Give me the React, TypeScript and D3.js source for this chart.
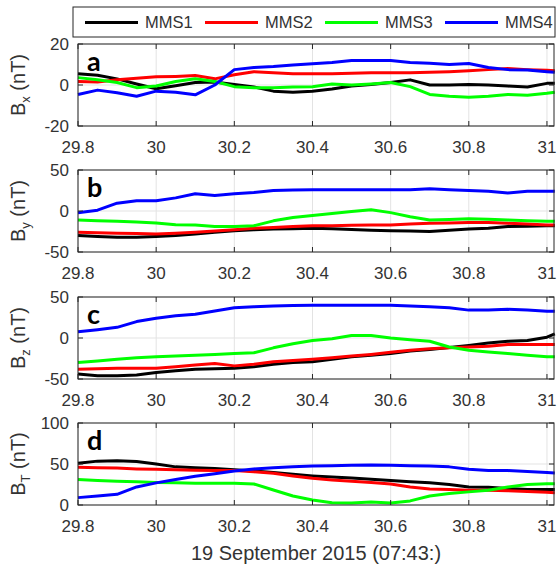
import React from 'react';
import * as d3 from 'd3';

// time in seconds after 07:43
const times = [29.8, 29.85, 29.9, 29.95, 30.0, 30.05, 30.1, 30.15, 30.2, 30.25, 30.3, 30.35, 30.4,
  30.45, 30.5, 30.55, 30.6, 30.65, 30.7, 30.75, 30.8, 30.85, 30.9, 30.95, 31.0, 31.02];

const seriesNames = ['MMS1', 'MMS2', 'MMS3', 'MMS4'];
const seriesColors = ['#000000', '#ff0000', '#00ff00', '#0000ff'];
const xTicks = [29.8, 30, 30.2, 30.4, 30.6, 30.8, 31];

// Bx
const bx1 = [5.5, 4.8, 3, 0.5, -1.8, -0.4, 1.2, 1.5, 0.2, -1, -3, -3.5, -3, -2, -0.5, 0.2, 1.2, 2.5, 0, 0, 0.3, 0, -0.5, -1, 0.8, 0.8];
const bx2 = [1.7, 1.5, 2.6, 3.3, 4, 4.2, 4.6, 3, 5, 6.5, 6, 5.5, 5.5, 5.5, 5.7, 6, 6, 6, 6.2, 6.5, 7, 7.5, 8, 7.5, 7.2, 7];
const bx3 = [3.6, 2.6, 1.2, -1.3, -0.5, 1.7, 3, 1.7, -0.8, -1.3, -1.3, -1, -0.8, 0.5, 0, 0.5, 1.2, -0.8, -4.6, -5.5, -6, -5.5, -4.6, -5, -4, -3.5];
const bx4 = [-4.6, -2.5, -3.8, -5.5, -3, -3.5, -4.8, 0, 7.5, 8.5, 9, 9.8, 10.4, 11, 12, 12, 12, 11, 10.6, 10, 10.5, 8.5, 7.5, 7.3, 6.5, 6.2];

// By
const by1 = [-30, -31, -32, -32, -31, -30, -28, -26, -24, -23, -22, -21.5, -21, -21.5, -22.5, -23.5, -24, -24.5, -25, -23.5, -22, -21, -19, -18.5, -18, -18];
const by2 = [-26, -26.5, -27, -27.5, -28, -27, -26, -24.5, -23, -21, -20, -19, -18, -18, -17.5, -17, -17, -16, -15, -14.5, -14, -14, -15, -16, -17, -17];
const by3 = [-11, -12, -12.5, -13.5, -14.6, -16.7, -17, -18.8, -18.8, -18, -12, -8, -5.4, -3, -0.5, 1.5, -2, -7, -11, -10.5, -9.6, -10, -11, -12, -12.5, -12.5];
const by4 = [-2, 1, 9.5, 12.5, 12.5, 16, 21, 19, 21, 22.5, 25, 25.5, 26, 26, 26, 26, 26, 26, 27, 26, 25, 24, 22, 24, 24, 24];

// Bz
const bz1 = [-44, -46, -46, -45, -42, -40, -38, -37.5, -37, -35, -32, -30, -29, -26, -23, -21, -19, -16, -14, -11.5, -9, -6, -4, -3, 1, 5];
const bz2 = [-38, -37.5, -37, -37, -37, -35, -33, -31, -34, -32, -29, -27.5, -26, -24, -22, -20, -17.5, -15, -13, -12, -11, -10, -8, -8, -8, -8];
const bz3 = [-30, -28, -26, -24, -23, -22, -21, -20, -19, -18, -12, -7, -3, -1, 3, 3, 0, -2, -4, -11, -15, -17, -19, -21, -23, -23];
const bz4 = [7.5, 10, 13, 20, 24, 27, 29, 33, 37, 38, 39, 39.5, 40, 40, 40, 40, 40, 39, 38, 37, 34, 34, 35, 34, 32.5, 32.5];

// BT
const bt1 = [51, 53.5, 54, 53, 50, 46.5, 45.5, 44.5, 43, 41.5, 39.5, 37.5, 35.5, 34, 33, 31.5, 30, 28.5, 27, 25, 22, 21.5, 20, 19, 19, 19];
const bt2 = [46, 45.5, 45, 44, 43.5, 43, 42.5, 42, 42, 40.5, 38.6, 35.5, 32.5, 30.5, 29, 27.5, 25.5, 22, 19.5, 19, 18, 18, 17.5, 16.5, 15.5, 15];
const bt3 = [31, 30, 29, 28.5, 27.5, 27, 26.5, 26.4, 26.4, 25.6, 18.3, 11, 6, 2.8, 2.3, 3.7, 2.5, 5, 11, 14, 16, 18, 22, 25, 26, 26];
const bt4 = [9, 11, 13, 22, 27, 31, 35, 38, 41.5, 44, 45.5, 46.5, 47.5, 48, 48.5, 48.8, 48.5, 47.8, 47.5, 46.5, 43.5, 42, 42, 41, 39.5, 39];

const panels = [
  { letter: 'a', comp: 'x', yTicks: [-20, 0, 20], series: [bx1, bx2, bx3, bx4] },
  { letter: 'b', comp: 'y', yTicks: [-50, 0, 50], series: [by1, by2, by3, by4] },
  { letter: 'c', comp: 'z', yTicks: [-50, 0, 50], series: [bz1, bz2, bz3, bz4] },
  { letter: 'd', comp: 'T', yTicks: [0, 50, 100], series: [bt1, bt2, bt3, bt4] },
];

const W = 558;
const H = 568;
const left = 78;
const right = 554;
const panelTops = [44, 170, 297, 423];
const panelH = 82;
const axisColor = '#262626';
const textColor = '#333';
const font = "'Liberation Sans', Arial, sans-serif";

const x = d3.scaleLinear().domain([29.8, 31.018]).range([left, right]);

const Panel = ({ p, top }) => {
  const y = d3.scaleLinear()
    .domain([p.yTicks[0], p.yTicks[2]])
    .range([top + panelH, top]);
  const line = d3.line<number>()
    .x((_, i) => x(times[i]))
    .y(d => y(d));
  const midY = top + panelH / 2;
  return (
    <g>
      <rect x={left} y={top} width={right - left} height={panelH} fill="#fff" />
      {/* grid */}
      {xTicks.map(t => (
        <line key={'gx' + t} x1={x(t)} x2={x(t)} y1={top} y2={top + panelH} stroke="#e3e3e3" strokeWidth={1} />
      ))}
      {p.yTicks.map(t => (
        <line key={'gy' + t} x1={left} x2={right} y1={y(t)} y2={y(t)} stroke="#e3e3e3" strokeWidth={1} />
      ))}
      {/* series */}
      {p.series.map((s, i) => (
        <path key={i} d={line(s) || ''} fill="none" stroke={seriesColors[i]} strokeWidth={3} strokeLinejoin="round" />
      ))}
      {/* box and ticks */}
      <rect x={left} y={top} width={right - left} height={panelH} fill="none" stroke={axisColor} strokeWidth={1} />
      {xTicks.map(t => (
        <g key={'tx' + t}>
          <line x1={x(t)} x2={x(t)} y1={top + panelH} y2={top + panelH - 5} stroke={axisColor} />
          <line x1={x(t)} x2={x(t)} y1={top} y2={top + 5} stroke={axisColor} />
          <text x={x(t)} y={top + panelH + 27} textAnchor="middle" fontSize={17} fill={textColor} fontFamily={font}>{t}</text>
        </g>
      ))}
      {p.yTicks.map(t => (
        <g key={'ty' + t}>
          <line x1={left} x2={left + 5} y1={y(t)} y2={y(t)} stroke={axisColor} />
          <line x1={right} x2={right - 5} y1={y(t)} y2={y(t)} stroke={axisColor} />
          <text x={69} y={y(t)} dy="0.35em" textAnchor="end" fontSize={17} fill={textColor} fontFamily={font}>{t}</text>
        </g>
      ))}
      <text x={87} y={top + 27} fontSize={27} fontWeight="bold" fontFamily="Lato, sans-serif" fill="#000">{p.letter}</text>
      <text transform={`translate(25,${midY}) rotate(-90)`} textAnchor="middle" fontSize={20} fill={textColor} fontFamily={font}>
        B<tspan fontSize={13} dy={5}>{p.comp}</tspan><tspan dy={-5}> (nT)</tspan>
      </text>
    </g>
  );
};

const App = () => {
  const legendX = d3.scaleLinear().domain([0, 1]).range([85, 205]);
  return (
    <svg width={W} height={H} style={{ position: 'absolute', left: 0, top: 0, background: '#fff' }}>
      <rect x={73} y={7} width={482} height={30} fill="#fff" stroke={axisColor} strokeWidth={1} />
      {seriesNames.map((n, i) => (
        <g key={n}>
          <line x1={legendX(i)} x2={legendX(i) + 53} y1={22.5} y2={22.5} stroke={seriesColors[i]} strokeWidth={3} />
          <text x={legendX(i) + 60} y={22.5} dy="0.35em" fontSize={16.5} fill={textColor} fontFamily={font}>{n}</text>
        </g>
      ))}
      {panels.map((p, i) => (
        <Panel key={p.letter} p={p} top={panelTops[i]} />
      ))}
      <text x={(left + right) / 2} y={560} textAnchor="middle" fontSize={20} fill={textColor} fontFamily={font}>
        19 September 2015 (07:43:)
      </text>
    </svg>
  );
};

export default App;
